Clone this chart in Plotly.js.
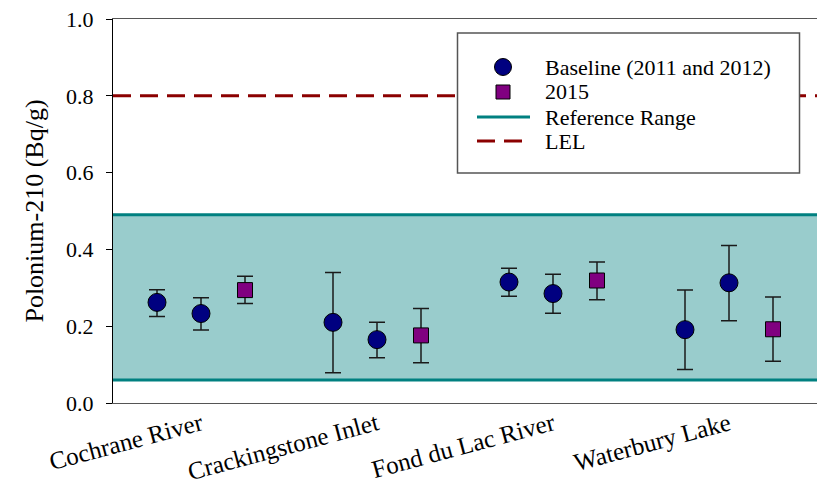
<!DOCTYPE html>
<html>
<head>
<meta charset="utf-8">
<script src="https://cdn.plot.ly/plotly-3.0.1.min.js"></script>
<style>html,body{margin:0;padding:0;background:#fff;}#chart{width:817px;height:487px;}</style>
</head>
<body>
<div id="chart"></div>
<script>
// ---- data ----
var sites = ['Cochrane River', 'Crackingstone Inlet', 'Fond du Lac River', 'Waterbury Lake'];

var base2011   = [0.262, 0.210, 0.315, 0.191];
var base2011Hi = [0.295, 0.340, 0.351, 0.294];
var base2011Lo = [0.225, 0.079, 0.278, 0.087];

var base2012   = [0.233, 0.165, 0.285, 0.313];
var base2012Hi = [0.274, 0.210, 0.335, 0.410];
var base2012Lo = [0.190, 0.118, 0.234, 0.214];

var y2015   = [0.294, 0.176, 0.319, 0.192];
var y2015Hi = [0.330, 0.246, 0.367, 0.276];
var y2015Lo = [0.259, 0.105, 0.269, 0.109];

var refRange = [0.06, 0.49];
var lelValue = 0.8;

var yTicks = [0, 0.2, 0.4, 0.6, 0.8, 1.0];
var legendLabels = ['Baseline (2011 and 2012)', '2015', 'Reference Range', 'LEL'];

// ---- styles ----
var FONT = 'Liberation Serif';
var NAVY = '#000080', PURPLE = '#800080', TEAL = '#008080', DARKRED = '#8B0000';

var idx = sites.map(function (s, i) { return i; });
var xMin = -0.5, xMax = sites.length - 0.5;
function diff(a, b) { return a.map(function (v, i) { return v - b[i]; }); }

var baseX = idx.map(function (i) { return i - 0.25; }).concat(idx);
var baseY = base2011.concat(base2012);
var baseHi = base2011Hi.concat(base2012Hi);
var baseLo = base2011Lo.concat(base2012Lo);

var errStyle = {color: '#1a1a1a', thickness: 1.5, width: 8};

var traces = [
  {
    type: 'scatter', mode: 'lines', name: 'Reference Range',
    x: [xMin, xMax], y: [refRange[1], refRange[1]],
    line: {color: TEAL, width: 3}, hoverinfo: 'skip'
  },
  {
    type: 'scatter', mode: 'lines', name: 'Reference Range (low)',
    x: [xMin, xMax], y: [refRange[0], refRange[0]],
    line: {color: TEAL, width: 3}, hoverinfo: 'skip'
  },
  {
    type: 'scatter', mode: 'lines', name: 'LEL',
    x: [xMin, xMax], y: [lelValue, lelValue],
    line: {color: DARKRED, width: 3, dash: '18px,9px'}, hoverinfo: 'skip'
  },
  {
    type: 'scatter', mode: 'markers', name: 'Baseline (2011 and 2012)',
    x: baseX, y: baseY,
    error_y: Object.assign({type: 'data', symmetric: false,
      array: diff(baseHi, baseY), arrayminus: diff(baseY, baseLo)}, errStyle),
    marker: {symbol: 'circle', size: 18, color: NAVY, line: {color: '#000000', width: 1}}
  },
  {
    type: 'scatter', mode: 'markers', name: '2015',
    x: idx.map(function (i) { return i + 0.25; }), y: y2015,
    error_y: Object.assign({type: 'data', symmetric: false,
      array: diff(y2015Hi, y2015), arrayminus: diff(y2015, y2015Lo)}, errStyle),
    marker: {symbol: 'square', size: 15, color: PURPLE, line: {color: '#000000', width: 1}}
  }
];

// pixel -> paper helpers (plot area spans 113..817 in x and 19..403 in y)
function px2x(p) { return (p - 113) / 704; }
function px2y(p) { return (403 - p) / 384; }

// legend drawn as a framed key: box, symbols and text rows
var keyRowsY = [67, 92, 117, 141];
var keySymX = 503, keyTextX = 543;

var shapes = [
  {type: 'rect', xref: 'paper', yref: 'y', x0: 0, x1: 1, y0: refRange[0], y1: refRange[1],
   fillcolor: '#99CCCC', line: {width: 0}, layer: 'below'},
  {type: 'rect', xref: 'paper', yref: 'paper', x0: px2x(457.5), x1: px2x(799.5), y0: px2y(173), y1: px2y(33),
   fillcolor: '#ffffff', line: {color: '#555555', width: 1.5}, layer: 'above'},
  {type: 'circle', xref: 'paper', yref: 'paper', xsizemode: 'pixel', ysizemode: 'pixel',
   xanchor: px2x(keySymX), yanchor: px2y(keyRowsY[0]), x0: -8.5, x1: 8.5, y0: -8.5, y1: 8.5,
   fillcolor: NAVY, line: {color: '#000000', width: 1}, layer: 'above'},
  {type: 'rect', xref: 'paper', yref: 'paper', xsizemode: 'pixel', ysizemode: 'pixel',
   xanchor: px2x(keySymX), yanchor: px2y(keyRowsY[1]), x0: -7, x1: 7, y0: -7, y1: 7,
   fillcolor: PURPLE, line: {color: '#000000', width: 1}, layer: 'above'},
  {type: 'line', xref: 'paper', yref: 'paper', x0: px2x(477), x1: px2x(530), y0: px2y(keyRowsY[2]), y1: px2y(keyRowsY[2]),
   line: {color: TEAL, width: 3}, layer: 'above'},
  {type: 'line', xref: 'paper', yref: 'paper', x0: px2x(477), x1: px2x(522), y0: px2y(keyRowsY[3]), y1: px2y(keyRowsY[3]),
   line: {color: DARKRED, width: 3, dash: '18px,9px'}, layer: 'above'}
];

var annotations = legendLabels.map(function (t, i) {
  return {xref: 'paper', yref: 'paper', x: px2x(keyTextX), y: px2y(keyRowsY[i]),
          xanchor: 'left', yanchor: 'middle', showarrow: false, text: t,
          font: {family: FONT, size: 22, color: '#000000'}};
});

var layout = {
  width: 817, height: 487,
  margin: {l: 113, r: 0, t: 19, b: 84, pad: 0},
  paper_bgcolor: '#ffffff', plot_bgcolor: '#ffffff',
  font: {family: FONT, color: '#000000', size: 22},
  showlegend: false,
  xaxis: {
    range: [xMin, xMax], tickmode: 'array', tickvals: idx, ticktext: sites,
    tickangle: -15, ticks: '', showgrid: false, zeroline: false,
    showline: true, mirror: true, linecolor: '#555555', linewidth: 1,
    ticklabelstandoff: -4,
    tickfont: {family: FONT, size: 25, color: '#000000'}
  },
  yaxis: {
    range: [0, 1], tickmode: 'array', tickvals: yTicks, tickformat: '.1f',
    ticks: 'outside', ticklen: 6, tickcolor: '#000000', showgrid: false, zeroline: false,
    showline: true, linecolor: '#000000', linewidth: 1, ticklabelstandoff: 8,
    tickfont: {family: FONT, size: 22, color: '#000000'},
    title: {text: 'Polonium-210 (Bq/g)', font: {family: FONT, size: 26, color: '#000000'}, standoff: 14}
  },
  shapes: shapes,
  annotations: annotations
};

Plotly.newPlot('chart', traces, layout, {displayModeBar: false, staticPlot: true});
</script>
</body>
</html>
